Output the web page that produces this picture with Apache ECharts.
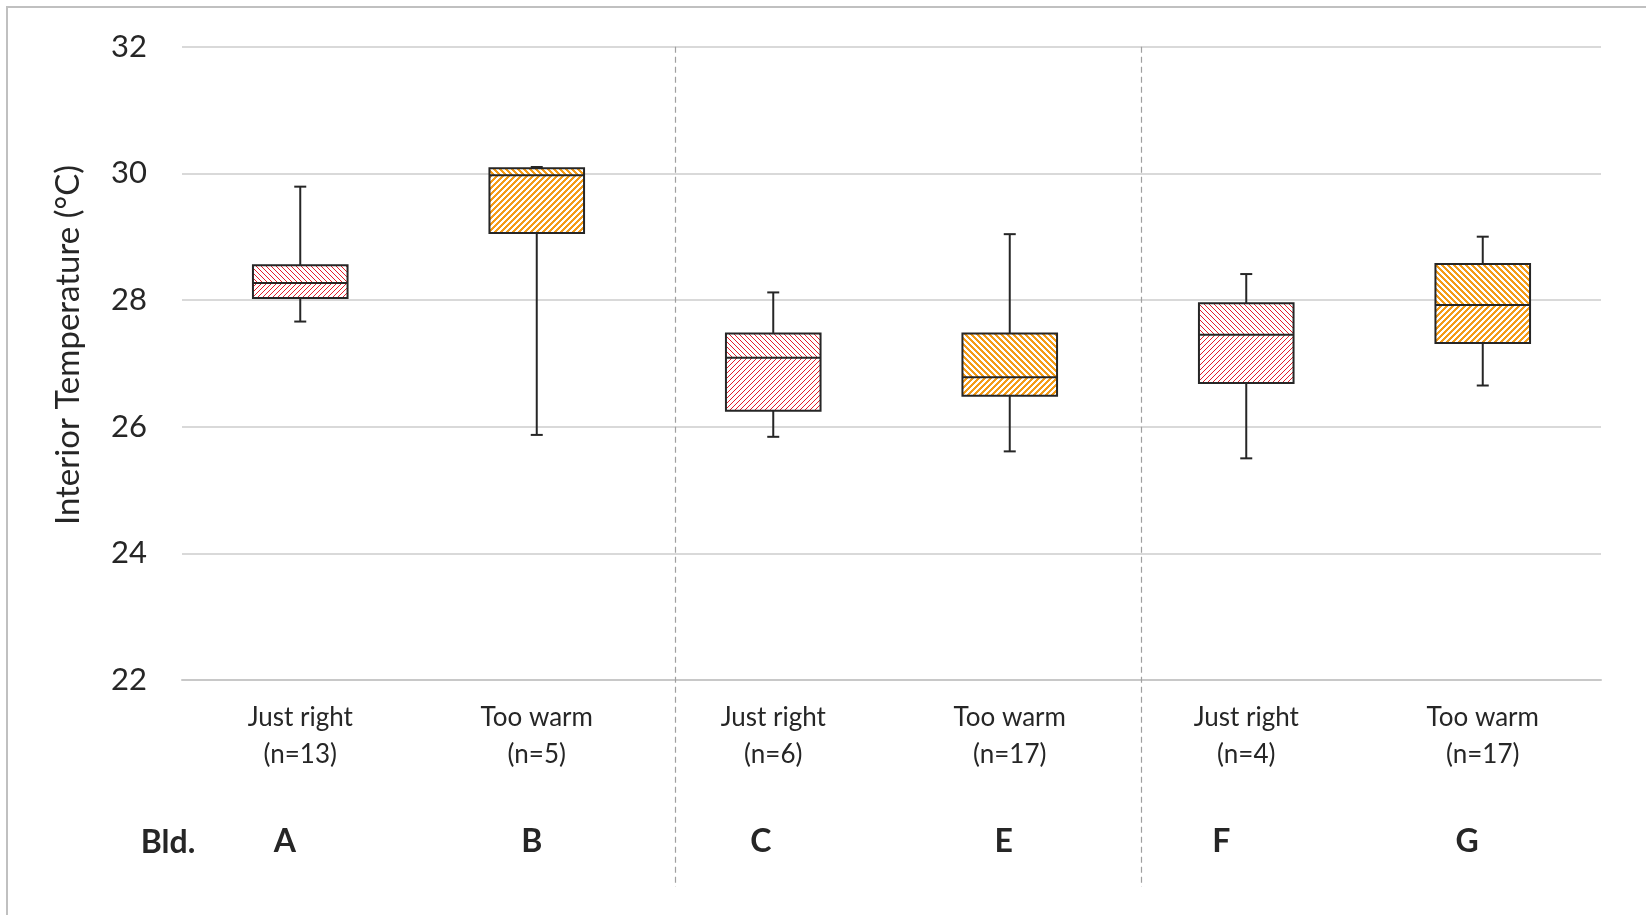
<!DOCTYPE html>
<html>
<head>
<meta charset="utf-8">
<script src="https://cdn.jsdelivr.net/npm/echarts@6/dist/echarts.min.js"></script>
<style>
  html, body { margin: 0; padding: 0; background: #ffffff; }
  #chart { width: 1646px; height: 915px; }
</style>
</head>
<body>
<div id="chart"></div>
<script>
// ---------------- data ----------------
const categories  = ['Just right', 'Too warm', 'Just right', 'Too warm', 'Just right', 'Too warm'];
const sampleSizes = [13, 5, 6, 17, 4, 17];
const buildings   = ['A', 'B', 'C', 'E', 'F', 'G'];
const lowWhisker  = [27.66, 25.87, 25.84, 25.61, 25.50, 26.65];
const quartile1   = [28.03, 29.06, 26.25, 26.49, 26.69, 27.32];
const medians     = [28.27, 29.97, 27.09, 26.78, 27.45, 27.92];
const quartile3   = [28.55, 30.08, 27.47, 27.47, 27.95, 28.57];
const highWhisker = [29.79, 30.10, 28.12, 29.04, 28.41, 29.00];
const yMin = 22, yMax = 32, yStep = 2;
const yTitle = 'Interior Temperature (°C)';
const bldTitle = 'Bld.';
// group separators, in category-index units
const separators = [1.586, 3.556];

// ---------------- styling ----------------
const FONT = 'Lato, "Open Sans", "Noto Sans", sans-serif';
const TEXT = '#262626';
const RED = '#e31d2b';
const ORANGE = '#f49b17';
// horizontal shift (px) of each building letter relative to its category centre
const letterShift = [-15.5, -5, -12.5, -6, -25, -15.7];

function hatch(color, size, thick, dir) {
  const c = document.createElement('canvas');
  c.width = size; c.height = size;
  const ctx = c.getContext('2d');
  ctx.fillStyle = color;
  for (let y = 0; y < size; y++) {
    for (let k = 0; k < thick; k++) {
      const x = dir === '/' ? ((size - 1 - y + k) % size + size) % size : (y + k) % size;
      ctx.fillRect(x, y, 1, 1);
    }
  }
  return c;
}
const patterns = {
  'Just right': {
    up:   { image: hatch(RED, 5, 1, '\\'), repeat: 'repeat' },
    down: { image: hatch(RED, 5, 1, '/'), repeat: 'repeat' }
  },
  'Too warm': {
    up:   { image: hatch(ORANGE, 6, 3, '\\'), repeat: 'repeat' },
    down: { image: hatch(ORANGE, 6, 3, '/'), repeat: 'repeat' }
  }
};

const boxData = categories.map((c, i) => [i, lowWhisker[i], quartile1[i], medians[i], quartile3[i], highWhisker[i]]);
const sepData = separators.map(s => [s]);

const rich = {
  t: { fontFamily: FONT, fontSize: 26, lineHeight: 37, color: TEXT }
};
buildings.forEach((b, i) => {
  rich['b' + i] = {
    fontFamily: FONT, fontSize: 32, fontWeight: 'bold', lineHeight: 137, color: TEXT,
    padding: letterShift[i] < 0 ? [0, -2 * letterShift[i], 0, 0] : [0, 0, 0, 2 * letterShift[i]]
  };
});

const chart = echarts.init(document.getElementById('chart'), null, { renderer: 'canvas' });

const option = {
  animation: false,
  backgroundColor: '#ffffff',
  grid: [
    { left: 182, right: 45, top: 46.7, bottom: 235 },
    { left: 182, right: 45, top: 46.7, bottom: 28 }
  ],
  xAxis: [
    {
      type: 'category', gridIndex: 0, data: categories,
      axisTick: { show: false },
      axisLine: { show: true, lineStyle: { color: '#c8c8c8', width: 2 } },
      axisLabel: {
        margin: 19, interval: 0,
        formatter: (v, i) => `{t|${v}}\n{t|(n=${sampleSizes[i]})}\n{b${i}|${buildings[i]}}`,
        rich: rich
      },
      splitLine: { show: false }
    },
    { type: 'value', gridIndex: 1, min: -0.5, max: 5.5, show: false }
  ],
  yAxis: [
    {
      type: 'value', gridIndex: 0, min: yMin, max: yMax, interval: yStep,
      axisLine: { show: false }, axisTick: { show: false },
      axisLabel: { fontFamily: FONT, fontSize: 31, color: TEXT, margin: 35 },
      splitLine: { lineStyle: { color: '#d9d9d9', width: 2 } }
    },
    { type: 'value', gridIndex: 1, min: 0, max: 1, show: false }
  ],
  graphic: [
    {
      type: 'rect', silent: true, z: 100,
      shape: { x: 7, y: 7, width: 2000, height: 2000 },
      style: { fill: 'none', stroke: '#c0c0c0', lineWidth: 2 }
    },
    {
      type: 'text', x: 68, y: 345, rotation: Math.PI / 2,
      style: {
        text: yTitle, fontFamily: FONT, fontSize: 33, fontWeight: 'normal', fill: TEXT,
        align: 'center', verticalAlign: 'middle'
      }
    },
    {
      type: 'text', x: 168, y: 843,
      style: {
        text: bldTitle, fontFamily: FONT, fontSize: 32, fontWeight: 'bold', fill: TEXT,
        align: 'center', verticalAlign: 'middle'
      }
    }
  ],
  series: [
    {
      type: 'custom', name: 'separators', xAxisIndex: 1, yAxisIndex: 1,
      data: sepData, silent: true, z: 1,
      encode: { x: 0 },
      renderItem: (params, api) => {
        const x = api.value(0);
        const p1 = api.coord([x, 1]);
        const p2 = api.coord([x, 0]);
        return {
          type: 'line',
          shape: { x1: Math.round(p1[0]) + 0.5, y1: p1[1], x2: Math.round(p2[0]) + 0.5, y2: p2[1] },
          style: { stroke: '#a0a0a0', lineWidth: 1.2, lineDash: [6, 4] }
        };
      }
    },
    {
      type: 'custom', name: 'boxes', xAxisIndex: 0, yAxisIndex: 0,
      data: boxData, silent: true, z: 5,
      encode: { x: 0, y: [1, 2, 3, 4, 5] },
      renderItem: (params, api) => {
        const i = api.value(0);
        const lo = api.coord([i, api.value(1)]);
        const q1 = api.coord([i, api.value(2)]);
        const md = api.coord([i, api.value(3)]);
        const q3 = api.coord([i, api.value(4)]);
        const hi = api.coord([i, api.value(5)]);
        const band = api.size([1, 0])[0];
        const w = band * 0.4;
        const cx = lo[0];
        const x0 = cx - w / 2;
        const cap = 12;
        const pat = patterns[categories[i]];
        const stroke = { stroke: '#262626', lineWidth: 2 };
        return {
          type: 'group',
          children: [
            { type: 'line', shape: { x1: cx, y1: hi[1], x2: cx, y2: q3[1] }, style: stroke },
            { type: 'line', shape: { x1: cx, y1: q1[1], x2: cx, y2: lo[1] }, style: stroke },
            { type: 'line', shape: { x1: cx - cap / 2, y1: hi[1], x2: cx + cap / 2, y2: hi[1] }, style: stroke },
            { type: 'line', shape: { x1: cx - cap / 2, y1: lo[1], x2: cx + cap / 2, y2: lo[1] }, style: stroke },
            { type: 'rect', shape: { x: x0, y: q3[1], width: w, height: md[1] - q3[1] },
              style: { fill: '#ffffff' } },
            { type: 'rect', shape: { x: x0, y: md[1], width: w, height: q1[1] - md[1] },
              style: { fill: '#ffffff' } },
            { type: 'rect', shape: { x: x0, y: q3[1], width: w, height: md[1] - q3[1] },
              style: { fill: pat.up } },
            { type: 'rect', shape: { x: x0, y: md[1], width: w, height: q1[1] - md[1] },
              style: { fill: pat.down } },
            { type: 'rect', shape: { x: x0, y: q3[1], width: w, height: q1[1] - q3[1] },
              style: { fill: 'none', stroke: '#262626', lineWidth: 2 } },
            { type: 'line', shape: { x1: x0, y1: md[1], x2: x0 + w, y2: md[1] }, style: stroke }
          ]
        };
      }
    }
  ]
};
chart.setOption(option);
</script>
</body>
</html>
